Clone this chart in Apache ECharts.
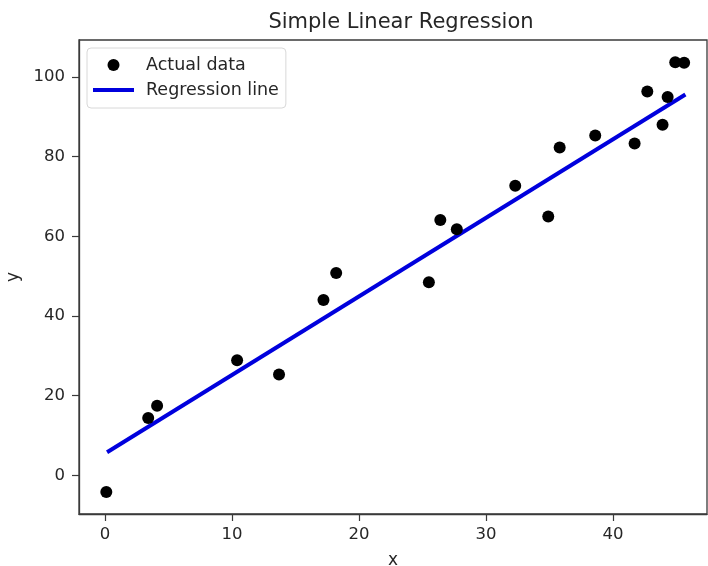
<!DOCTYPE html>
<html>
<head>
<meta charset="utf-8">
<script src="https://cdn.jsdelivr.net/npm/echarts@6/dist/echarts.min.js"></script>
<style>html,body{margin:0;padding:0;background:#fff}#c{width:708px;height:566px}</style>
</head>
<body>
<div id="c"></div>
<script>
const titleText = 'Simple Linear Regression';
const xName = 'x';
const yName = 'y';
const scatterName = 'Actual data';
const lineName = 'Regression line';
const dataX = [0.1, 3.4, 4.1, 10.4, 13.7, 17.2, 18.2, 25.5, 26.4, 27.7, 32.3, 34.9, 35.8, 38.6, 41.7, 42.7, 43.9, 44.3, 44.9, 45.6];
const dataY = [-4.2, 14.4, 17.5, 28.9, 25.3, 44.0, 50.8, 48.5, 64.1, 61.8, 72.7, 65.0, 82.3, 85.3, 83.3, 96.4, 88.0, 95.0, 103.7, 103.6];
const regX = [0.16, 45.7];
const regY = [5.8, 95.6];

const font = 'DejaVu Sans';
const txt = '#262626';
const axisCol = '#3a3a3a';
const chart = echarts.init(document.getElementById('c'), null, {renderer: 'canvas'});
chart.setOption({
  animation: false,
  backgroundColor: '#fff',
  title: {
    text: titleText, left: 396, top: 7, textAlign: 'center',
    textStyle: {fontFamily: font, fontSize: 21, fontWeight: 'normal', color: txt}
  },
  grid: {left: 79, right: 1, top: 40, bottom: 52, show: true, borderColor: axisCol, borderWidth: 1.3, containLabel: false, outerBoundsMode: 'none'},
  legend: {
    orient: 'vertical', left: 87, top: 48,
    data: [
      {name: scatterName},
      {name: lineName, itemStyle: {opacity: 0}, lineStyle: {color: '#0000dd', width: 4}}
    ],
    itemWidth: 41, itemHeight: 12, itemGap: 7,
    padding: [8, 7, 9, 4],
    backgroundColor: '#fff', borderColor: '#d8d8d8', borderWidth: 1, borderRadius: 4,
    textStyle: {fontFamily: font, fontSize: 17.5, color: txt, padding: [0, 0, 0, 7]}
  },
  xAxis: {
    type: 'value', min: -2.05, max: 47.4, splitNumber: 5,
    name: xName, nameLocation: 'middle', nameGap: 38,
    nameTextStyle: {fontFamily: font, fontSize: 17, color: txt},
    axisLine: {show: true, onZero: false, lineStyle: {color: axisCol, width: 1.3}},
    axisTick: {show: true, inside: false, length: 7, lineStyle: {color: axisCol, width: 1.2}},
    axisLabel: {fontFamily: font, fontSize: 16.5, color: txt, margin: 12, showMinLabel: false, showMaxLabel: false},
    splitLine: {show: false}
  },
  yAxis: {
    type: 'value', min: -9.7, max: 109.3, splitNumber: 6,
    name: yName, nameLocation: 'middle', nameGap: 57,
    nameTextStyle: {fontFamily: font, fontSize: 17, color: txt},
    axisLine: {show: true, onZero: false, lineStyle: {color: axisCol, width: 1.3}},
    axisTick: {show: true, inside: false, length: 7, lineStyle: {color: axisCol, width: 1.2}},
    axisLabel: {fontFamily: font, fontSize: 16.5, color: txt, margin: 14, showMinLabel: false, showMaxLabel: false},
    splitLine: {show: false}
  },
  series: [
    {
      name: scatterName, type: 'scatter', symbol: 'circle', symbolSize: 12,
      itemStyle: {color: '#000', opacity: 1},
      data: dataX.map((x, i) => [x, dataY[i]]), z: 3
    },
    {
      name: lineName, type: 'line', symbol: 'none',
      lineStyle: {color: '#0000dd', width: 4}, itemStyle: {color: '#0000dd'},
      data: regX.map((x, i) => [x, regY[i]]), z: 2
    }
  ]
});
</script>
</body>
</html>
